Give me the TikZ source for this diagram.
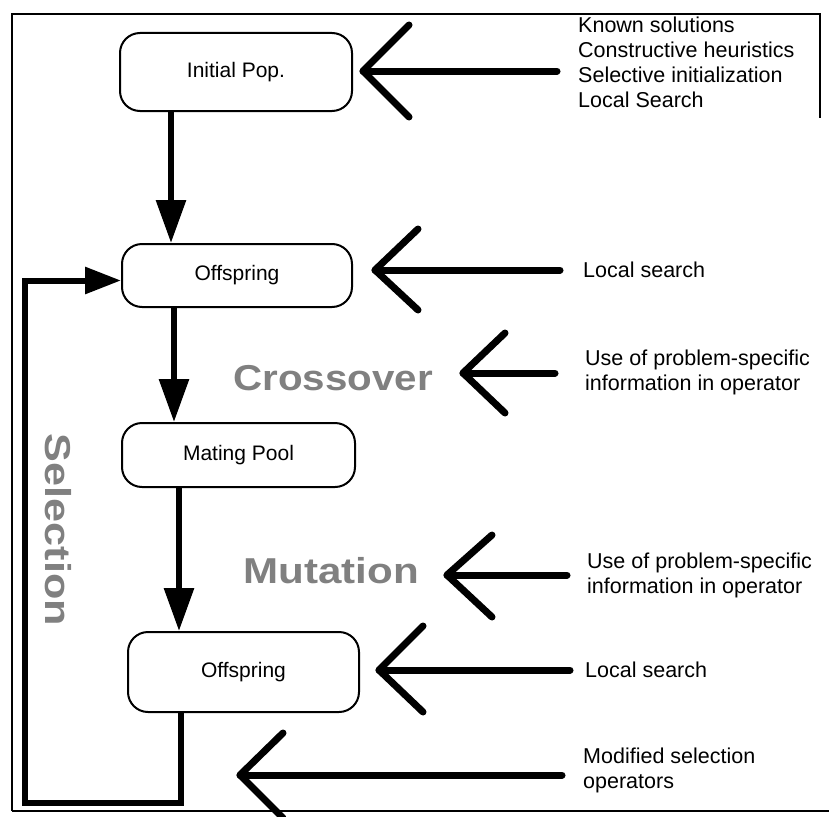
\documentclass[tikz,border=0pt]{standalone}
\usepackage{fontspec}
\setmainfont{Liberation Sans}
\usetikzlibrary{arrows.meta,calc}

\begin{document}
\begin{tikzpicture}[x=1pt,y=-1pt,
  box/.style={draw, line width=2pt, rounded corners=20pt, align=center,
    inner sep=0pt, font=\fontsize{21}{25}\selectfont},
  flow/.style={line width=6pt, -{Triangle[length=43pt,width=29pt]}},
  loopline/.style={line width=6pt, -{Triangle[length=36pt,width=26pt]}},
  chev/.style={line width=7pt, line cap=round, line join=round},
  note/.style={anchor=west, align=left, inner sep=0pt,
    font=\fontsize{21.5}{25}\selectfont},
  stage/.style={text=black!50, inner sep=0pt, font=\fontsize{36}{36}\selectfont\bfseries},
  frame/.style={line width=2pt}]

\useasboundingbox (0,0) rectangle (829,816);

% outer frame
\draw[frame] (12,811) -- (12,14) -- (820,14) -- (820,118);
\draw[frame] (12,811) -- (829,811);

% main stages
\node[box, minimum width=232pt, minimum height=78pt] (init)   at (236,72)    {Initial Pop.};
\node[box, minimum width=230pt, minimum height=63pt] (off1)   at (237,275.5) {Offspring};
\node[box, minimum width=233pt, minimum height=64pt] (mating) at (238.5,455) {Mating Pool};
\node[box, minimum width=231pt, minimum height=80pt] (off2)   at (243.5,672) {Offspring};

% flow between stages
\draw[flow] ([xshift=52pt]init.south west)   -- ([xshift=50pt]off1.north west);
\draw[flow] ([xshift=53pt]off1.south west)   -- ([xshift=53pt]mating.north west);
\draw[flow] ([xshift=58pt]mating.south west) -- ([xshift=52pt]off2.north west);

% selection loop back to the offspring
\coordinate (lb) at (25,803);
\draw[loopline] ([xshift=54pt]off2.south west) |- (lb) |- ([yshift=-5pt]off1.west);

% operator names
\node[stage] (cross) at (333,378) {\scalebox{1.12}[1]{Crossover}};
\node[stage] (mut)   at (331,571) {\scalebox{1.17}[1]{Mutation}};
\node[stage, rotate=-90] (sel) at (58,530) {\scalebox{1.2}[1]{Selection}};

% hybridisation notes
\node[note] (n1) at (578,62)  {Known solutions\\Constructive heuristics\\Selective initialization\\Local Search};
\node[note] (n2) at (583,270) {Local search};
\node[note] (n3) at (585,372) {Use of problem-specific\\information in operator};
\node[note] (n4) at (587,575) {Use of problem-specific\\information in operator};
\node[note] (n5) at (585,670) {Local search};
\node[note] (n6) at (583,770) {Modified selection\\operators};

% chevron arrows: tips and tails
\coordinate (t1) at (363,71);  \coordinate (e1) at (557,71);
\coordinate (t2) at (375,270); \coordinate (e2) at (560,270);
\coordinate (t3) at (463,373); \coordinate (e3) at (555,373);
\coordinate (t4) at (447,575); \coordinate (e4) at (567,575);
\coordinate (t5) at (379,670); \coordinate (e5) at (570,670);
\coordinate (t6) at (240,775); \coordinate (e6) at (562,775);

\draw[chev] (e1) -- (t1); \draw[chev] (t1) ++(46,-46) -- (t1) -- ++(46,46);
\draw[chev] (e2) -- (t2); \draw[chev] (t2) ++(43,-41) -- (t2) -- ++(43,40);
\draw[chev] (e3) -- (t3); \draw[chev] (t3) ++(42,-40) -- (t3) -- ++(42,40);
\draw[chev] (e4) -- (t4); \draw[chev] (t4) ++(45,-40) -- (t4) -- ++(45,42);
\draw[chev] (e5) -- (t5); \draw[chev] (t5) ++(44,-44) -- (t5) -- ++(44,42);
\draw[chev] (e6) -- (t6); \draw[chev] (t6) ++(43,-42) -- (t6) -- ++(43,43);
\end{tikzpicture}
\end{document}
